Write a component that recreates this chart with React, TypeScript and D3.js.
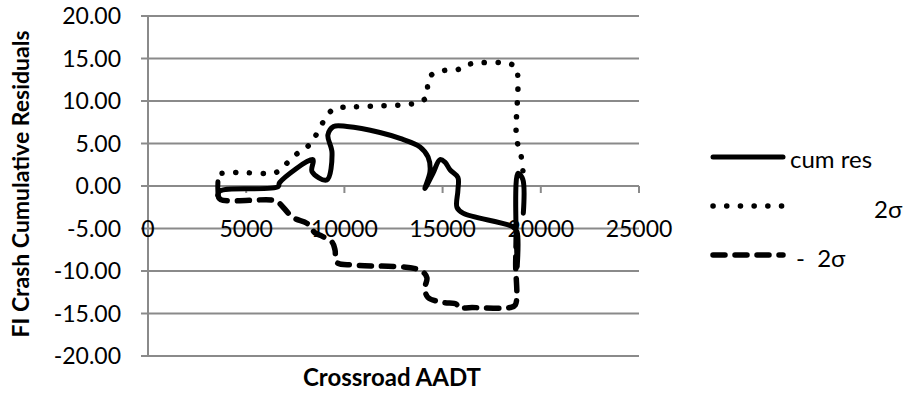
import React from "react";
import * as d3 from "d3";

// Cumulative residuals of fatal+injury crashes against crossroad AADT
const cumAadt = [3560, 3560, 3650, 6620, 6700, 8400, 8350, 9100, 9370, 9160, 9450, 10130, 11810, 12830, 13850, 14260, 14360, 14100, 14510, 14870, 15120, 15380, 15780, 15780, 15730, 16040, 18580, 18790, 18800, 18830, 19080, 19110];
const cumRes = [0.5, -1.3, -0.6, -0.1, 0.4, 3.1, 1.7, 0.7, 3.9, 6.0, 7.0, 7.0, 6.3, 5.6, 4.6, 3.4, 1.7, -0.3, 1.5, 3.1, 2.8, 1.9, 1.0, -0.5, -2.5, -3.2, -4.8, -5.4, -9.5, 1.5, 0.8, -3.2];

// Upper limit (+2σ)
const upAadt = [3770, 4500, 6570, 7080, 7590, 8150, 8500, 9420, 10500, 13700, 14200, 14250, 14510, 15100, 15780, 16290, 18380, 18740, 18760, 19000, 19120];
const upSigma = [1.5, 1.6, 1.65, 2.7, 3.8, 4.7, 5.8, 9.0, 9.3, 9.8, 10.5, 12.5, 13.2, 13.6, 13.7, 14.3, 14.4, 13.9, 5.7, 3.5, 1.0];

// Lower limit (-2σ)
const loAadt = [3560, 3700, 6300, 6620, 7380, 8100, 8500, 8860, 9370, 9520, 9620, 10500, 13850, 14200, 14100, 14250, 15020, 15700, 15780, 16500, 18430, 18700, 18720, 18760];
const loSigma = [-1.1, -1.6, -1.65, -1.9, -3.7, -4.4, -5.5, -5.9, -6.6, -7.5, -9.0, -9.3, -9.9, -10.8, -12.0, -13.1, -13.7, -13.9, -14.3, -14.3, -14.3, -14.0, -9.0, -5.5];

const xTicks = [0, 5000, 10000, 15000, 20000, 25000];
const yTicks = [-20, -15, -10, -5, 0, 5, 10, 15, 20];

const legendLabels = ["cum res", "2σ", "-  2σ"];

const FONT = "Lato, 'Open Sans', sans-serif";
const GRID = "#8a8a8a";

export default function App() {
  const W = 904;
  const H = 394;
  const x = d3.scaleLinear().domain([0, 25000]).range([148, 639]);
  const y = d3.scaleLinear().domain([-20, 20]).range([356, 16]);

  const line = d3
    .line<[number, number]>()
    .x((d) => x(d[0]))
    .y((d) => y(d[1]))
    .curve(d3.curveCatmullRom.alpha(0.5));

  const zip = (a: number[], b: number[]) => a.map((v, i) => [v, b[i]] as [number, number]);

  const dotted = { strokeDasharray: "0.1 13.6", strokeLinecap: "round" as const };
  const dashed = { strokeDasharray: "12 10", strokeLinecap: "round" as const };

  const legendY = [157, 206, 255];

  return (
    <svg width={W} height={H} style={{ position: "absolute", left: 0, top: 0, background: "#fff" }} fontFamily={FONT}>
      {/* horizontal gridlines */}
      {yTicks.map((t) => (
        <line key={"g" + t} x1={148} x2={639} y1={y(t)} y2={y(t)} stroke={GRID} strokeWidth={2} />
      ))}
      {/* y axis */}
      <line x1={148} x2={148} y1={y(20)} y2={y(-20)} stroke={GRID} strokeWidth={2} />
      {yTicks.map((t) => (
        <line key={"yt" + t} x1={141} x2={148} y1={y(t)} y2={y(t)} stroke={GRID} strokeWidth={2} />
      ))}
      {yTicks.map((t) => (
        <text key={"yl" + t} x={121} y={y(t) + 8} textAnchor="end" fontSize={23} fill="#000">
          {t.toFixed(2)}
        </text>
      ))}
      {/* x axis at zero */}
      <line x1={148} x2={639} y1={y(0)} y2={y(0)} stroke={GRID} strokeWidth={2} />
      {xTicks.map((t) => (
        <line key={"xt" + t} x1={x(t)} x2={x(t)} y1={y(0)} y2={y(0) + 7} stroke={GRID} strokeWidth={2} />
      ))}
      {xTicks.map((t) => (
        <text key={"xl" + t} x={x(t)} y={237} textAnchor="middle" fontSize={23} fill="#000">
          {t}
        </text>
      ))}

      {/* axis titles */}
      <text
        transform={`translate(29,${184}) rotate(-90)`}
        textAnchor="middle"
        fontSize={23}
        fontWeight="bold"
        fill="#000"
      >
        FI Crash Cumulative Residuals
      </text>
      <text x={392} y={386} textAnchor="middle" fontSize={24} fontWeight="bold" fill="#000">
        Crossroad AADT
      </text>

      {/* series */}
      <path d={line(zip(upAadt, upSigma)) || ""} fill="none" stroke="#000" strokeWidth={5.5} {...dotted} />
      <path d={line(zip(loAadt, loSigma)) || ""} fill="none" stroke="#000" strokeWidth={5.5} {...dashed} />
      <path d={line(zip(cumAadt, cumRes)) || ""} fill="none" stroke="#000" strokeWidth={5} strokeLinejoin="round" strokeLinecap="round" />

      {/* legend */}
      <line x1={713} x2={783} y1={legendY[0]} y2={legendY[0]} stroke="#000" strokeWidth={5} strokeLinecap="round" />
      <line x1={713} x2={783} y1={legendY[1]} y2={legendY[1]} stroke="#000" strokeWidth={5.5} {...dotted} />
      <line x1={713} x2={783} y1={legendY[2]} y2={legendY[2]} stroke="#000" strokeWidth={5.5} {...dashed} />
      <text x={790} y={168} fontSize={24} fill="#000">{legendLabels[0]}</text>
      <text x={874} y={218} fontSize={24} fill="#000">{legendLabels[1]}</text>
      <text x={796} y={267} fontSize={24} fill="#000" style={{ whiteSpace: "pre" }}>{legendLabels[2]}</text>
    </svg>
  );
}
